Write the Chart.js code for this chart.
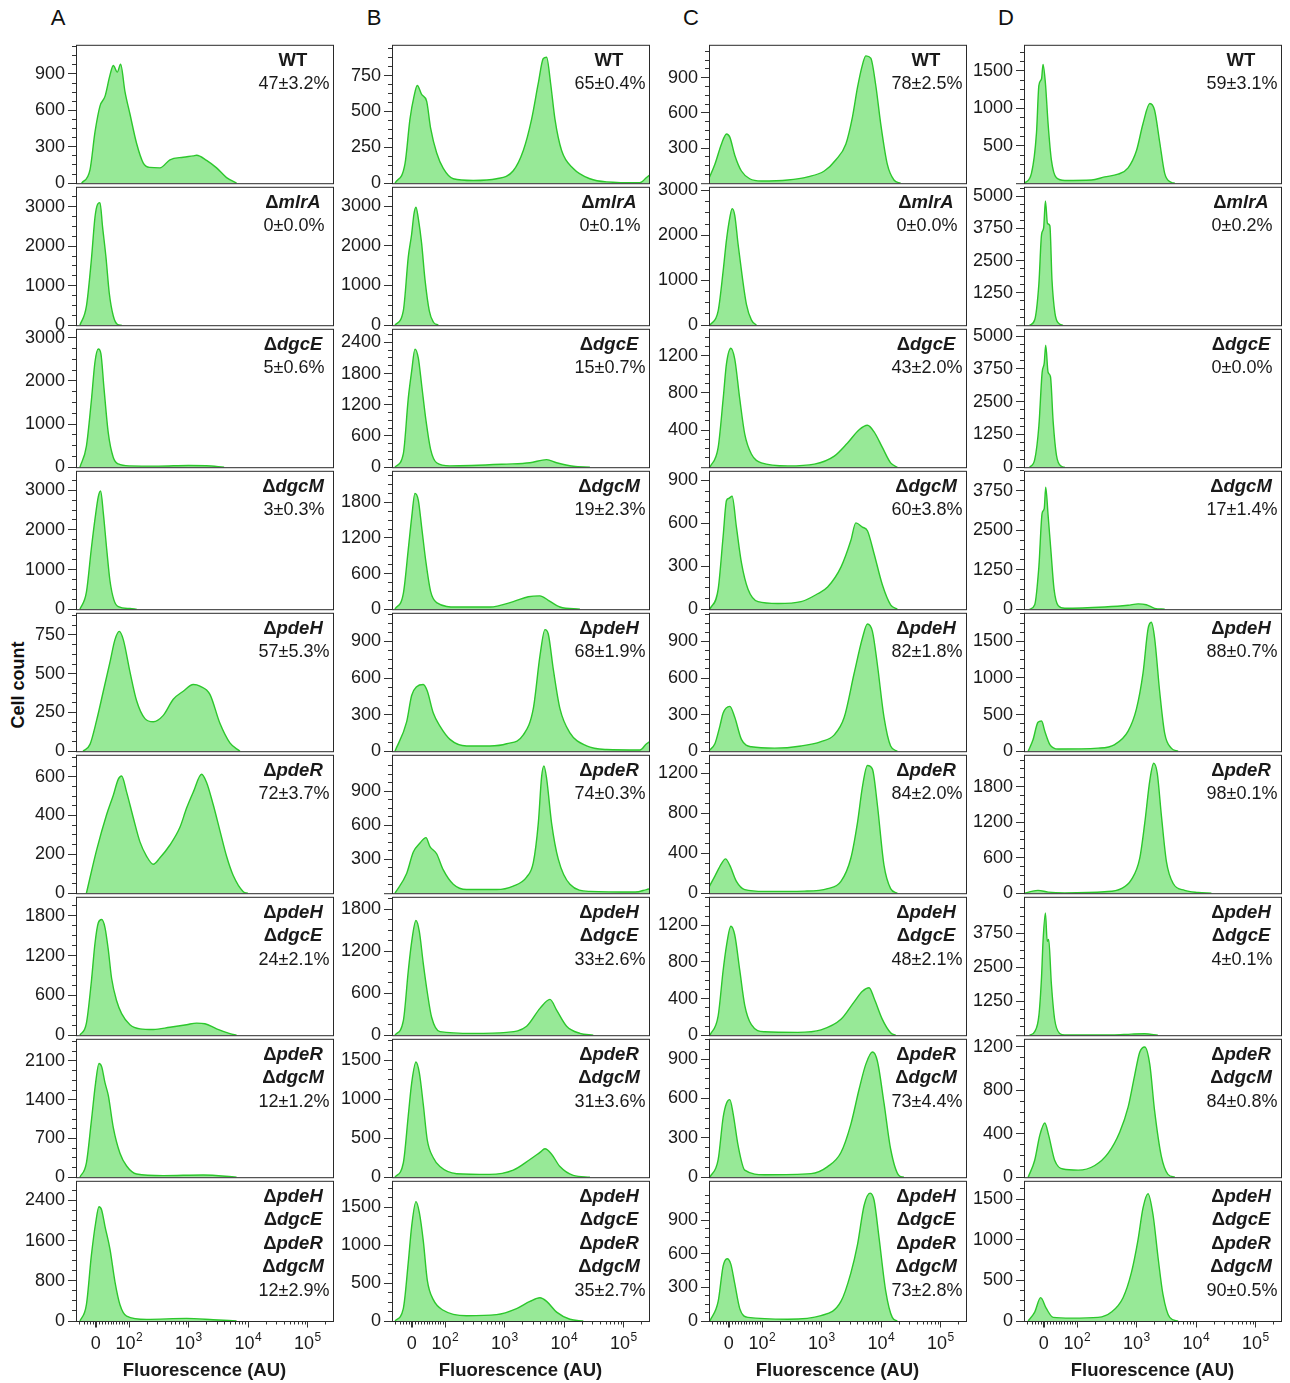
<!DOCTYPE html>
<html>
<head>
<meta charset="utf-8">
<script src="https://cdn.jsdelivr.net/npm/chart.js@4.4.0/dist/chart.umd.min.js"></script>
<style>
  body { margin: 0; background: #fff; width: 1290px; height: 1383px; position: relative; overflow: hidden;
         font-family: "Liberation Sans", Arial, sans-serif; color: #111; }
  canvas { position: absolute; }
  .letter { position: absolute; font-size: 22px; line-height: 22px; width: 30px; text-align: center; }
  .ylabel { position: absolute; left: -42px; top: 675px; width: 120px; line-height: 20px; text-align: center;
            font-size: 18px; font-weight: bold; transform: rotate(-90deg); }
</style>
</head>
<body>
<div class="ylabel">Cell count</div>
<script>
// x values are display positions on the biexponential axis (2 = 10^2, 3 = 10^3 ...)
const colLetters = ['A', 'B', 'C', 'D'];
const rowNames = [['WT'], ['ΔmlrA'], ['ΔdgcE'], ['ΔdgcM'], ['ΔpdeH'], ['ΔpdeR'],
  ['ΔpdeH', 'ΔdgcE'], ['ΔpdeR', 'ΔdgcM'], ['ΔpdeH', 'ΔdgcE', 'ΔpdeR', 'ΔdgcM']];

const pctA = ['47±3.2%', '0±0.0%', '5±0.6%', '3±0.3%', '57±5.3%', '72±3.7%', '24±2.1%', '12±1.2%', '12±2.9%'];
const pctB = ['65±0.4%', '0±0.1%', '15±0.7%', '19±2.3%', '68±1.9%', '74±0.3%', '33±2.6%', '31±3.6%', '35±2.7%'];
const pctC = ['78±2.5%', '0±0.0%', '43±2.0%', '60±3.8%', '82±1.8%', '84±2.0%', '48±2.1%', '73±4.4%', '73±2.8%'];
const pctD = ['59±3.1%', '0±0.2%', '0±0.0%', '17±1.4%', '88±0.7%', '98±0.1%', '4±0.1%', '84±0.8%', '90±0.5%'];

const yMaxA = [1140, 3500, 3210, 3490, 893, 712, 2085, 2500, 2790];
const yMaxB = [965, 3485, 2660, 2330, 1135, 1220, 1975, 1775, 1845];
const yMaxC = [1180, 3080, 1490, 968, 1135, 1385, 1510, 1055, 1255];
const yMaxD = [1850, 5360, 5280, 4380, 1890, 2340, 5080, 1275, 1725];

const yTicksA = [[0, 300, 600, 900], [0, 1000, 2000, 3000], [0, 1000, 2000, 3000], [0, 1000, 2000, 3000],
  [0, 250, 500, 750], [0, 200, 400, 600], [0, 600, 1200, 1800], [0, 700, 1400, 2100], [0, 800, 1600, 2400]];
const yTicksB = [[0, 250, 500, 750], [0, 1000, 2000, 3000], [0, 600, 1200, 1800, 2400], [0, 600, 1200, 1800],
  [0, 300, 600, 900], [300, 600, 900], [0, 600, 1200, 1800], [0, 500, 1000, 1500], [0, 500, 1000, 1500]];
const yTicksC = [[300, 600, 900], [0, 1000, 2000, 3000], [400, 800, 1200], [0, 300, 600, 900],
  [0, 300, 600, 900], [0, 400, 800, 1200], [0, 400, 800, 1200], [0, 300, 600, 900], [0, 300, 600, 900]];
const yTicksD = [[500, 1000, 1500], [1250, 2500, 3750, 5000], [0, 1250, 2500, 3750, 5000], [0, 1250, 2500, 3750],
  [0, 500, 1000, 1500], [0, 600, 1200, 1800], [1250, 2500, 3750], [0, 400, 800, 1200], [0, 500, 1000, 1500]];

const xTickVals = [1.44, 2, 3, 4, 5];
const xTickLabels = [['0', ''], ['10', '2'], ['10', '3'], ['10', '4'], ['10', '5']];
const xTicksNearZero = [1.16, 1.24, 1.30, 1.35, 1.39, 1.49, 1.54, 1.59, 1.64, 1.69, 1.74, 1.79, 1.84, 1.88, 1.92, 1.96];

const histA = [
  [[1.205, 0], [1.345, 110], [1.429, 420], [1.513, 635], [1.597, 715], [1.681, 890], [1.737, 970], [1.804, 915], [1.860, 980], [1.933, 755], [2.017, 570], [2.129, 327], [2.241, 166], [2.353, 130], [2.521, 126], [2.689, 193], [2.913, 214], [3.081, 225], [3.137, 230], [3.305, 188], [3.473, 126], [3.641, 46], [3.809, 0]],
  [[1.176, 0], [1.285, 480], [1.368, 1650], [1.429, 2730], [1.473, 3060], [1.513, 3100], [1.557, 2480], [1.613, 1730], [1.669, 815], [1.737, 233], [1.804, 25], [1.877, 0]],
  [[1.176, 0], [1.285, 490], [1.368, 1540], [1.429, 2440], [1.485, 2740], [1.529, 2630], [1.580, 1840], [1.653, 790], [1.737, 225], [1.821, 75], [2.017, 30], [2.5, 25], [3.0, 40], [3.3, 35], [3.6, 0]],
  [[1.176, 0], [1.285, 430], [1.368, 1530], [1.429, 2270], [1.485, 2840], [1.524, 2980], [1.569, 2430], [1.625, 1530], [1.681, 717], [1.748, 228], [1.821, 65], [2.017, 16], [2.129, 0]],
  [[1.229, 0], [1.345, 44], [1.457, 200], [1.569, 387], [1.681, 575], [1.765, 720], [1.837, 773], [1.905, 720], [2.017, 512], [2.129, 325], [2.269, 210], [2.409, 190], [2.577, 231], [2.745, 335], [2.913, 387], [3.081, 430], [3.193, 420], [3.361, 367], [3.529, 180], [3.697, 54], [3.866, 0]],
  [[1.285, 0], [1.457, 223], [1.625, 405], [1.737, 504], [1.821, 587], [1.877, 603], [1.961, 520], [2.073, 388], [2.185, 264], [2.297, 190], [2.409, 149], [2.521, 182], [2.689, 248], [2.857, 339], [2.969, 438], [3.081, 520], [3.221, 612], [3.305, 570], [3.417, 455], [3.529, 322], [3.641, 190], [3.753, 91], [3.922, 8], [4.0, 0]],
  [[1.176, 0], [1.285, 182], [1.368, 806], [1.429, 1382], [1.485, 1694], [1.541, 1742], [1.597, 1622], [1.653, 1286], [1.709, 854], [1.793, 518], [1.877, 326], [2.017, 158], [2.185, 96], [2.409, 86], [2.689, 120], [2.969, 158], [3.137, 182], [3.277, 173], [3.473, 96], [3.697, 24], [3.809, 0]],
  [[1.176, 0], [1.285, 260], [1.368, 1013], [1.440, 1708], [1.496, 2055], [1.541, 1997], [1.597, 1708], [1.653, 1476], [1.737, 897], [1.849, 434], [1.961, 203], [2.129, 58], [2.577, 29], [3.249, 40], [3.809, 0]],
  [[1.176, 0], [1.285, 325], [1.368, 1300], [1.440, 1950], [1.496, 2275], [1.541, 2210], [1.597, 1885], [1.681, 1430], [1.765, 780], [1.849, 325], [1.961, 98], [2.297, 33], [2.969, 52], [3.417, 26], [3.809, 0]]
];

const histB = [
  [[1.160, 0], [1.328, 134], [1.412, 447], [1.479, 603], [1.535, 681], [1.608, 619], [1.692, 572], [1.759, 384], [1.860, 212], [1.972, 103], [2.140, 31], [2.476, 19], [2.868, 31], [3.148, 87], [3.317, 228], [3.457, 447], [3.569, 697], [3.653, 869], [3.709, 878], [3.776, 697], [3.849, 447], [3.961, 228], [4.157, 103], [4.437, 31], [4.717, 9], [5.277, 3], [5.389, 40], [5.45, 60]],
  [[1.160, 0], [1.300, 362], [1.384, 1720], [1.440, 2290], [1.479, 2800], [1.513, 2970], [1.552, 2690], [1.608, 2060], [1.664, 1155], [1.737, 362], [1.804, 80], [1.888, 0]],
  [[1.160, 0], [1.300, 257], [1.384, 1328], [1.440, 1842], [1.496, 2270], [1.552, 2100], [1.608, 1585], [1.681, 900], [1.759, 343], [1.860, 86], [2.084, 26], [3.036, 60], [3.429, 86], [3.709, 146], [3.877, 86], [4.157, 17], [4.437, 0]],
  [[1.160, 0], [1.300, 262], [1.384, 1012], [1.440, 1537], [1.496, 1950], [1.552, 1837], [1.608, 1387], [1.681, 787], [1.759, 300], [1.860, 112], [2.196, 37], [2.756, 37], [3.148, 127], [3.401, 210], [3.597, 225], [3.737, 150], [3.933, 37], [4.269, 0]],
  [[1.160, 0], [1.356, 241], [1.440, 457], [1.524, 529], [1.636, 547], [1.703, 493], [1.804, 313], [1.916, 205], [2.084, 97], [2.364, 43], [2.756, 43], [3.036, 61], [3.317, 133], [3.485, 349], [3.597, 781], [3.681, 997], [3.737, 961], [3.821, 673], [3.933, 349], [4.101, 151], [4.381, 43], [4.717, 14], [5.277, 10], [5.389, 61], [5.45, 80]],
  [[1.160, 0], [1.356, 174], [1.468, 363], [1.580, 442], [1.681, 490], [1.748, 411], [1.860, 348], [1.972, 205], [2.140, 79], [2.364, 32], [2.868, 32], [3.148, 63], [3.373, 142], [3.485, 269], [3.569, 616], [3.625, 1027], [3.664, 1122], [3.709, 1011], [3.793, 616], [3.905, 300], [4.101, 79], [4.437, 16], [5.2, 10], [5.389, 32], [5.45, 40]],
  [[1.160, 0], [1.300, 204], [1.384, 920], [1.440, 1329], [1.513, 1636], [1.569, 1482], [1.636, 1022], [1.703, 613], [1.776, 256], [1.916, 51], [2.476, 26], [3.036, 41], [3.373, 128], [3.597, 383], [3.765, 511], [3.877, 358], [4.045, 128], [4.269, 26], [4.493, 0]],
  [[1.160, 0], [1.300, 182], [1.384, 795], [1.440, 1204], [1.513, 1477], [1.569, 1340], [1.636, 932], [1.703, 477], [1.804, 250], [1.916, 136], [2.196, 45], [2.756, 36], [3.148, 91], [3.429, 227], [3.597, 318], [3.681, 364], [3.793, 295], [3.933, 136], [4.157, 23], [4.437, 0]],
  [[1.160, 0], [1.300, 164], [1.384, 774], [1.440, 1243], [1.513, 1571], [1.569, 1430], [1.636, 1055], [1.703, 539], [1.804, 281], [1.972, 141], [2.364, 70], [2.868, 84], [3.204, 164], [3.429, 258], [3.597, 305], [3.709, 258], [3.877, 117], [4.101, 23], [4.325, 0]]
];

const histC = [
  [[1.097, 27], [1.209, 162], [1.320, 335], [1.404, 420], [1.460, 393], [1.543, 239], [1.655, 104], [1.794, 38], [1.990, 19], [2.435, 27], [2.770, 54], [3.048, 104], [3.244, 200], [3.411, 335], [3.522, 566], [3.606, 816], [3.689, 1009], [3.745, 1086], [3.829, 1066], [3.913, 835], [3.996, 508], [4.107, 162], [4.219, 27], [4.330, 0]],
  [[1.125, 0], [1.264, 317], [1.348, 1208], [1.404, 1900], [1.460, 2396], [1.499, 2594], [1.543, 2445], [1.599, 1802], [1.666, 1109], [1.739, 465], [1.822, 119], [1.906, 0]],
  [[1.125, 0], [1.264, 213], [1.348, 735], [1.404, 1115], [1.477, 1281], [1.543, 1163], [1.627, 735], [1.711, 356], [1.822, 142], [1.990, 47], [2.435, 14], [2.881, 33], [3.216, 119], [3.439, 261], [3.634, 403], [3.773, 451], [3.885, 380], [4.024, 213], [4.163, 47], [4.275, 0]],
  [[1.125, 0], [1.264, 140], [1.348, 512], [1.404, 760], [1.443, 775], [1.499, 790], [1.571, 574], [1.655, 326], [1.766, 140], [1.934, 53], [2.268, 40], [2.658, 53], [2.937, 108], [3.104, 155], [3.328, 294], [3.494, 480], [3.578, 604], [3.689, 574], [3.773, 549], [3.885, 388], [4.024, 171], [4.163, 31], [4.275, 0]],
  [[1.097, 0], [1.209, 61], [1.293, 206], [1.348, 314], [1.460, 368], [1.543, 278], [1.655, 97], [1.822, 36], [2.212, 25], [2.658, 43], [2.993, 79], [3.216, 134], [3.383, 278], [3.550, 639], [3.689, 928], [3.773, 1043], [3.857, 982], [3.940, 711], [4.052, 278], [4.163, 43], [4.275, 0]],
  [[1.097, 46], [1.209, 171], [1.320, 296], [1.387, 343], [1.460, 278], [1.571, 118], [1.711, 36], [2.045, 18], [2.714, 21], [3.104, 46], [3.328, 118], [3.494, 350], [3.606, 707], [3.689, 1064], [3.773, 1278], [3.857, 1242], [3.940, 885], [4.052, 278], [4.163, 46], [4.275, 0]],
  [[1.125, 0], [1.264, 211], [1.348, 709], [1.404, 978], [1.477, 1189], [1.543, 1093], [1.627, 709], [1.711, 326], [1.822, 115], [2.045, 38], [2.602, 31], [2.993, 58], [3.328, 173], [3.550, 364], [3.689, 479], [3.801, 518], [3.885, 403], [4.024, 173], [4.163, 27], [4.247, 0]],
  [[1.125, 0], [1.264, 134], [1.348, 457], [1.404, 564], [1.460, 591], [1.516, 483], [1.599, 242], [1.711, 54], [2.045, 19], [2.825, 27], [3.104, 81], [3.328, 188], [3.494, 403], [3.634, 672], [3.745, 860], [3.857, 954], [3.940, 886], [4.052, 564], [4.163, 215], [4.303, 13], [4.386, 0]],
  [[1.125, 0], [1.264, 175], [1.348, 493], [1.415, 557], [1.477, 509], [1.543, 334], [1.627, 111], [1.766, 32], [2.435, 16], [2.993, 48], [3.328, 175], [3.494, 429], [3.606, 684], [3.717, 1034], [3.818, 1145], [3.885, 1081], [3.968, 747], [4.080, 270], [4.191, 32], [4.275, 0]]
];

const histD = [
  [[1.12, 0], [1.235, 132], [1.32, 674], [1.36, 1306], [1.405, 1396], [1.43, 1589], [1.47, 1336], [1.515, 795], [1.57, 313], [1.655, 72], [1.795, 36], [2.245, 42], [2.465, 84], [2.69, 120], [2.86, 205], [3.0, 433], [3.11, 795], [3.225, 1066], [3.305, 975], [3.39, 554], [3.475, 132], [3.585, 12], [3.645, 0]],
  [[1.205, 0], [1.29, 208], [1.36, 1597], [1.405, 3507], [1.44, 3767], [1.47, 4809], [1.505, 3941], [1.545, 3854], [1.58, 1771], [1.63, 469], [1.695, 69], [1.765, 0]],
  [[1.205, 0], [1.29, 290], [1.36, 1570], [1.415, 3620], [1.45, 3970], [1.475, 4650], [1.515, 3620], [1.555, 3450], [1.6, 1740], [1.655, 460], [1.74, 34], [1.795, 0]],
  [[1.205, 0], [1.29, 142], [1.36, 1344], [1.415, 3042], [1.45, 3184], [1.475, 3863], [1.515, 2972], [1.56, 1910], [1.615, 637], [1.685, 113], [1.795, 28], [2.465, 71], [2.86, 127], [3.03, 170], [3.165, 142], [3.305, 28], [3.475, 0]],
  [[1.18, 0], [1.26, 152], [1.345, 395], [1.405, 413], [1.46, 273], [1.545, 91], [1.685, 30], [2.355, 42], [2.635, 91], [2.86, 273], [3.0, 577], [3.11, 1062], [3.195, 1669], [3.25, 1760], [3.305, 1548], [3.39, 819], [3.475, 243], [3.585, 42], [3.7, 0]],
  [[1.12, 0], [1.235, 30], [1.345, 48], [1.515, 18], [1.795, 5], [2.465, 24], [2.745, 78], [2.915, 228], [3.055, 588], [3.14, 1188], [3.225, 1908], [3.29, 2196], [3.35, 2028], [3.42, 1308], [3.505, 528], [3.615, 168], [3.81, 48], [4.035, 12], [4.26, 0]],
  [[1.205, 0], [1.29, 130], [1.36, 716], [1.405, 2148], [1.43, 3450], [1.47, 4490], [1.5, 3450], [1.525, 3515], [1.57, 1888], [1.625, 586], [1.71, 65], [1.795, 5], [2.6, 10], [2.915, 39], [3.14, 52], [3.36, 0]],
  [[1.18, 0], [1.29, 156], [1.375, 385], [1.46, 499], [1.525, 385], [1.625, 156], [1.765, 75], [2.02, 65], [2.3, 108], [2.525, 222], [2.72, 417], [2.86, 645], [2.97, 939], [3.055, 1151], [3.14, 1200], [3.225, 1037], [3.305, 613], [3.42, 189], [3.53, 26], [3.645, 0]],
  [[1.18, 0], [1.29, 110], [1.39, 287], [1.485, 154], [1.6, 44], [1.905, 35], [2.355, 44], [2.58, 110], [2.775, 287], [2.915, 595], [3.025, 992], [3.11, 1389], [3.195, 1566], [3.28, 1301], [3.365, 772], [3.445, 331], [3.56, 44], [3.7, 0]]
];

const pctByCol = [pctA, pctB, pctC, pctD];
const yMaxByCol = [yMaxA, yMaxB, yMaxC, yMaxD];
const yTicksByCol = [yTicksA, yTicksB, yTicksC, yTicksD];
const histByCol = [histA, histB, histC, histD];

// layout
const PLOT_LEFT = [76, 392, 709, 1024];
const PLOT_W = 257, ROW_TOP = 43, ROW_H = 142;
const AXIS_W = 72, PAD = 12, XAXIS_H = 62;
const X_MIN = 1.11, X_MAX = 5.43;
const FONT = '"Liberation Sans", Arial, sans-serif';
const LINE = '#2cc72c', FILL = '#97e997', INK = '#1a1a1a', AXIS = '#333';

function drawGene(ctx, text, cx, y) {
  ctx.textAlign = 'left';
  if (text.charAt(0) !== 'Δ') {
    ctx.font = 'bold 18.5px ' + FONT;
    const w = ctx.measureText(text).width;
    ctx.fillText(text, cx - w / 2, y);
    return;
  }
  const rest = text.slice(1);
  ctx.font = 'bold 18.5px ' + FONT;
  const w1 = ctx.measureText('Δ').width;
  ctx.font = 'italic bold 18.5px ' + FONT;
  const w2 = ctx.measureText(rest).width;
  const x0 = cx - (w1 + w2) / 2;
  ctx.font = 'bold 18.5px ' + FONT;
  ctx.fillText('Δ', x0, y);
  ctx.font = 'italic bold 18.5px ' + FONT;
  ctx.fillText(rest, x0 + w1, y);
}

function panelDeco(c, r, last) {
  return {
    id: 'panelDeco',
    afterDraw(chart) {
      const ctx = chart.ctx, a = chart.chartArea;
      const ys = chart.scales.y, xs = chart.scales.x;
      const ticks = yTicksByCol[c][r];
      const step = ticks[ticks.length - 1] - ticks[ticks.length - 2];
      ctx.save();
      ctx.strokeStyle = AXIS;
      ctx.lineWidth = 1;

      // minor y ticks + zero tick
      ctx.beginPath();
      for (let v = step / 4; v < ys.max; v += step / 4) {
        if (Math.abs(v / step - Math.round(v / step)) < 1e-6) continue;
        const y = Math.round(ys.getPixelForValue(v) - 0.5) + 0.5;
        ctx.moveTo(a.left - 4, y); ctx.lineTo(a.left, y);
      }
      if (ticks[0] !== 0) {
        ctx.moveTo(a.left - 8, a.bottom + 0.5); ctx.lineTo(a.left, a.bottom + 0.5);
      }
      ctx.stroke();

      // panel box
      ctx.strokeStyle = '#2a2a2a';
      ctx.strokeRect(a.left + 0.5, a.top + 0.5, a.right - a.left, a.bottom - a.top);

      // strain and percentage
      ctx.fillStyle = INK;
      ctx.textBaseline = 'alphabetic';
      const cx = a.right - 40;
      let y = a.top + 21;
      for (const g of rowNames[r]) { drawGene(ctx, g, cx, y); y += 23.5; }
      ctx.font = '18px ' + FONT;
      ctx.textAlign = 'center';
      ctx.fillText(pctByCol[c][r], cx + 1, y);

      if (last) {
        const yb = a.bottom + 0.5;
        ctx.strokeStyle = AXIS;
        ctx.beginPath();
        const minors = xTicksNearZero.slice();
        for (let n = 2; n <= 5; n++) {
          for (let k = 2; k <= 9; k++) {
            const u = n + Math.log10(k);
            if (u < X_MAX) minors.push(u);
          }
        }
        for (const u of minors) {
          const x = Math.round(xs.getPixelForValue(u)) + 0.5;
          ctx.moveTo(x, yb); ctx.lineTo(x, yb + 3);
        }
        for (let i = 1; i < xTickVals.length; i++) {
          const x = Math.round(xs.getPixelForValue(xTickVals[i])) + 0.5;
          ctx.moveTo(x, yb); ctx.lineTo(x, yb + 6);
        }
        ctx.stroke();
        ctx.lineWidth = 2;
        ctx.beginPath();
        const x0 = Math.round(xs.getPixelForValue(xTickVals[0]));
        ctx.moveTo(x0, yb); ctx.lineTo(x0, yb + 6);
        ctx.stroke();

        for (let i = 0; i < xTickVals.length; i++) {
          const [base, sup] = xTickLabels[i];
          const x = xs.getPixelForValue(xTickVals[i]);
          ctx.font = '18px ' + FONT;
          const wb = ctx.measureText(base).width;
          ctx.font = '12px ' + FONT;
          const ws = sup ? ctx.measureText(sup).width : 0;
          const left = x - (wb + ws) / 2;
          ctx.textAlign = 'left';
          ctx.font = '18px ' + FONT;
          ctx.fillText(base, left, a.bottom + 28);
          if (sup) {
            ctx.font = '12px ' + FONT;
            ctx.fillText(sup, left + wb + 0.5, a.bottom + 20);
          }
        }
        ctx.textAlign = 'center';
        ctx.font = 'bold 18.5px ' + FONT;
        ctx.fillText('Fluorescence (AU)', (a.left + a.right) / 2, a.bottom + 55);
      }
      ctx.restore();
    }
  };
}

function addPanel(c, r) {
  const last = r === rowNames.length - 1;
  const cv = document.createElement('canvas');
  const w = AXIS_W + PLOT_W + 3;
  const h = PAD + ROW_H + (last ? XAXIS_H : PAD);
  cv.width = w; cv.height = h;
  cv.style.width = w + 'px'; cv.style.height = h + 'px';
  cv.style.left = (PLOT_LEFT[c] - AXIS_W) + 'px';
  cv.style.top = (ROW_TOP + r * ROW_H - PAD) + 'px';
  document.body.appendChild(cv);

  const ticks = yTicksByCol[c][r];
  new Chart(cv, {
    type: 'line',
    data: {
      datasets: [{
        data: histByCol[c][r].map(p => ({ x: p[0], y: p[1] })),
        borderColor: LINE,
        backgroundColor: FILL,
        borderWidth: 1.4,
        fill: 'origin',
        pointRadius: 0,
        cubicInterpolationMode: 'monotone'
      }]
    },
    options: {
      responsive: false,
      animation: false,
      events: [],
      layout: { padding: { left: 0, right: 3, top: PAD, bottom: last ? XAXIS_H : PAD } },
      plugins: { legend: { display: false }, tooltip: { enabled: false } },
      scales: {
        x: { type: 'linear', display: false, min: X_MIN, max: X_MAX },
        y: {
          type: 'linear',
          position: 'left',
          min: 0,
          max: yMaxByCol[c][r],
          afterFit: s => { s.width = AXIS_W; },
          afterBuildTicks: s => { s.ticks = ticks.map(v => ({ value: v })); },
          ticks: {
            autoSkip: false,
            padding: 3,
            color: INK,
            font: { family: FONT, size: 18 },
            callback: v => String(v)
          },
          grid: { drawOnChartArea: false, drawTicks: true, tickLength: 8, tickColor: AXIS, tickWidth: 1 },
          border: { display: false }
        }
      }
    },
    plugins: [panelDeco(c, r, last)]
  });
}

for (let c = 0; c < colLetters.length; c++) {
  const d = document.createElement('div');
  d.className = 'letter';
  d.textContent = colLetters[c];
  d.style.left = (PLOT_LEFT[c] - 18 - 15) + 'px';
  d.style.top = '7px';
  document.body.appendChild(d);
  for (let r = 0; r < rowNames.length; r++) addPanel(c, r);
}
</script>
</body>
</html>
